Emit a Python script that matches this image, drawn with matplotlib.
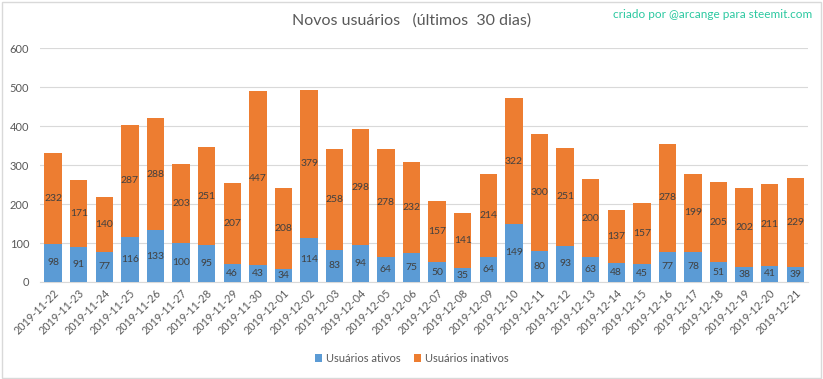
import numpy as np
import matplotlib
matplotlib.use('Agg')
import matplotlib.pyplot as plt
from matplotlib.patches import Rectangle

plt.rcParams['font.family'] = ['Lato', 'DejaVu Sans']

#------------------------------
dates = ['2019-11-22', '2019-11-23', '2019-11-24', '2019-11-25', '2019-11-26',
         '2019-11-27', '2019-11-28', '2019-11-29', '2019-11-30', '2019-12-01',
         '2019-12-02', '2019-12-03', '2019-12-04', '2019-12-05', '2019-12-06',
         '2019-12-07', '2019-12-08', '2019-12-09', '2019-12-10', '2019-12-11',
         '2019-12-12', '2019-12-13', '2019-12-14', '2019-12-15', '2019-12-16',
         '2019-12-17', '2019-12-18', '2019-12-19', '2019-12-20', '2019-12-21']
ativos = [98, 91, 77, 116, 133, 100, 95, 46, 43, 34, 114, 83, 94, 64, 75,
          50, 35, 64, 149, 80, 93, 63, 48, 45, 77, 78, 51, 38, 41, 39]
inativos = [232, 171, 140, 287, 288, 203, 251, 207, 447, 208, 379, 258, 298, 278, 232,
            157, 141, 214, 322, 300, 251, 200, 137, 157, 278, 199, 205, 202, 211, 229]
#------------------------------

blue = '#5B9BD5'
orange = '#ED7D31'
txt = '#595959'

fig = plt.figure(figsize=(8.23, 3.79), dpi=100)
ax = fig.add_axes([0.049, 0.256, 0.933, 0.617])

x = np.arange(len(dates))
a = np.array(ativos)
b = np.array(inativos)
b1 = ax.bar(x, a, 0.68, color=blue, label='Usuários ativos', zorder=3)
b2 = ax.bar(x, b, 0.68, bottom=a, color=orange, label='Usuários inativos', zorder=3)

for i in range(len(x)):
    ax.text(x[i], a[i] / 2, str(a[i]), ha='center', va='center', fontsize=7.5, color='#404040', zorder=4)
    ax.text(x[i], a[i] + b[i] / 2, str(b[i]), ha='center', va='center', fontsize=7.5, color='#404040', zorder=4)

ax.set_ylim(0, 600)
ax.set_yticks(range(0, 601, 100))
ax.set_xlim(-0.5, len(x) - 0.5)
ax.set_xticks(x)
ax.set_xticklabels(dates, rotation=45, ha='right', rotation_mode='anchor', fontsize=7.8, color=txt)
ax.tick_params(axis='y', labelsize=8, labelcolor=txt, length=0, pad=8)
ax.tick_params(axis='x', length=0, pad=4)
ax.grid(axis='y', color='#D9D9D9', linewidth=0.8, zorder=0)
for s in ['top', 'right', 'left']:
    ax.spines[s].set_visible(False)
ax.spines['bottom'].set_color('#D9D9D9')

fig.text(0.5, 0.945, 'Novos usuários   (últimos  30 dias)', ha='center', va='center', fontsize=11.5, color=txt)
fig.text(0.987, 0.963, 'criado por @arcange para steemit.com', ha='right', va='center', fontsize=8.5, color='#2BC8A0')

fig.legend(handles=[b1, b2], loc='center', bbox_to_anchor=(0.5, 0.055), ncol=2, frameon=False,
           fontsize=8, labelcolor=txt, handlelength=0.7, handleheight=0.7, handletextpad=0.3, columnspacing=1.2)

fig.patches.append(Rectangle((0.002, 0.003), 0.995, 0.993, transform=fig.transFigure,
                             fill=False, edgecolor='#D9D9D9', linewidth=1))

fig.savefig('out.png', dpi=100)
